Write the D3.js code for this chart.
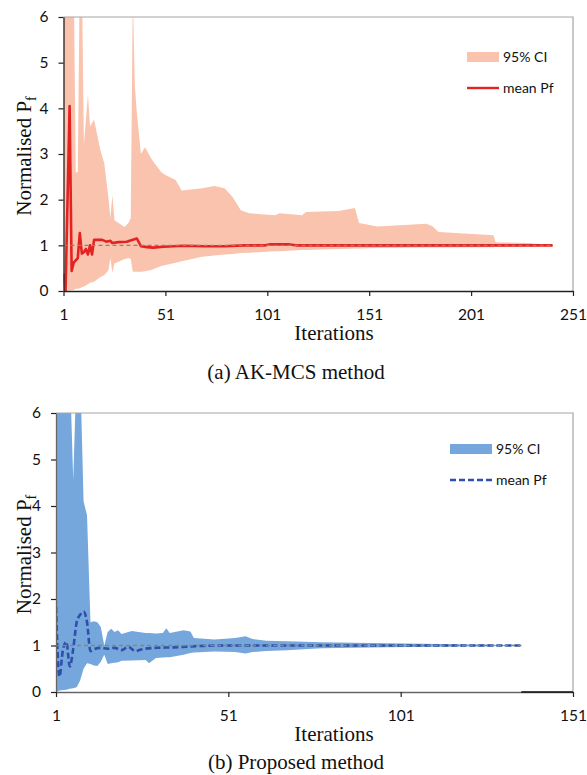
<!DOCTYPE html>
<html>
<head>
<meta charset="utf-8">
<script src="https://cdn.jsdelivr.net/npm/d3@7"></script>
<style>
  body { margin: 0; background: #fff; }
  .tick text { font-family: Lato, "Open Sans", sans-serif; font-size: 15.5px; fill: #111; }
  .title { font-family: "Liberation Serif", "DejaVu Serif", serif; fill: #111; }
  .legend text { font-family: Lato, "Open Sans", sans-serif; font-size: 14px; fill: #111; }
</style>
</head>
<body>
<svg id="chart" width="587" height="775"></svg>
<script>
// ---- (a) AK-MCS: 95% CI band and mean
const akBandIter = [1, 6, 7, 8, 9, 10, 11, 13, 14, 16, 19, 21, 23, 24, 25, 26, 31, 33, 34, 35, 36, 37, 39, 41, 44, 49, 51, 56, 59, 69, 75, 80, 84, 88, 92, 105, 107, 118, 120, 136, 144, 146, 155, 179, 182, 185, 212, 213, 229, 241];
const akLower    = [0, 0.02, 0.05, 0.05, 0.06, 0.08, 0.1, 0.15, 0.18, 0.2, 0.3, 0.35, 0.45, 0.72, 0.4, 0.6, 0.7, 0.72, 0.7, 0.42, 0.42, 0.42, 0.42, 0.43, 0.46, 0.55, 0.57, 0.62, 0.65, 0.75, 0.78, 0.8, 0.81, 0.83, 0.84, 0.87, 0.87, 0.9, 0.9, 0.92, 0.93, 0.93, 0.94, 0.95, 0.95, 0.95, 0.96, 0.97, 0.98, 0.99];
const akUpper    = [7, 7, 2.6, 2.6, 7, 7, 3.2, 4.3, 3.6, 3.75, 3.1, 2.8, 2.06, 1.6, 2.1, 1.55, 1.4, 1.5, 1.6, 6.5, 4.5, 3.9, 3.0, 3.15, 2.9, 2.6, 2.54, 2.43, 2.2, 2.25, 2.3, 2.25, 2.06, 1.77, 1.7, 1.66, 1.7, 1.66, 1.73, 1.75, 1.82, 1.49, 1.41, 1.47, 1.42, 1.29, 1.22, 1.07, 1.05, 1.01];
const akMeanIter = [1, 2, 4, 5, 6, 8, 9, 10, 11, 12, 13, 14, 15, 16, 20, 22, 24, 25, 28, 32, 35, 37, 39, 42, 45, 50, 55, 60, 70, 80, 90, 100, 102, 112, 115, 241];
const akMean     = [0.38, 0, 4.05, 0.44, 0.62, 0.72, 1.27, 0.82, 0.85, 0.92, 0.8, 1.0, 0.8, 1.12, 1.12, 1.08, 1.1, 1.05, 1.07, 1.08, 1.12, 1.15, 0.98, 0.96, 0.95, 0.97, 0.98, 0.99, 0.98, 0.98, 1.0, 1.0, 1.02, 1.02, 1.0, 1.0];

// ---- (b) Proposed method
const prBandIter = [1, 2, 4, 5, 6, 7, 8, 9, 10, 11, 12, 13, 14, 15, 16, 17, 18, 19, 20, 23, 27, 28, 30, 32, 33, 34, 38, 40, 41, 47, 53, 56, 58, 62, 68, 78, 97, 136];
const prLower    = [0, 0.03, 0.05, 0.07, 0.08, 0.1, 0.25, 0.5, 0.62, 0.6, 0.57, 0.56, 0.65, 0.8, 0.6, 0.62, 0.63, 0.64, 0.67, 0.68, 0.69, 0.62, 0.73, 0.74, 0.75, 0.75, 0.8, 0.84, 0.85, 0.87, 0.86, 0.83, 0.86, 0.88, 0.9, 0.94, 0.96, 0.99];
const prUpper    = [7, 7, 7, 7, 4.56, 7, 7, 4.1, 3.8, 1.5, 1.52, 1.5, 1.4, 1.0, 1.29, 1.36, 1.29, 1.33, 1.25, 1.31, 1.27, 1.27, 1.26, 1.27, 1.37, 1.27, 1.33, 1.3, 1.16, 1.13, 1.16, 1.2, 1.14, 1.1, 1.09, 1.07, 1.05, 1.01];
const prMeanIter = [1, 2, 3, 4, 5, 6, 7, 8, 9, 10, 11, 12, 14, 16, 18, 20, 22, 24, 26, 30, 35, 40, 50, 60, 136];
const prMean     = [1.83, 0.33, 0.9, 1.08, 0.55, 0.93, 1.5, 1.66, 1.73, 1.5, 0.88, 0.92, 0.95, 0.93, 0.95, 0.9, 0.97, 0.88, 0.92, 0.95, 0.96, 0.98, 1.0, 1.0, 1.0];

const yTicks = [0, 1, 2, 3, 4, 5, 6];
const akXTicks = [1, 51, 101, 151, 201, 251];
const prXTicks = [1, 51, 101, 151];
const legendLabels = ["95% CI", "mean Pf"];

const svg = d3.select("#chart");

function panel(cfg) {
    const x = d3.scaleLinear().domain(cfg.xDomain).range([cfg.left, cfg.right]);
    const y = d3.scaleLinear().domain([0, 6]).range([cfg.bottom, cfg.top]);
    const g = svg.append("g");

    const clipId = "clip-" + cfg.id;
    g.append("clipPath").attr("id", clipId)
        .append("rect")
        .attr("x", cfg.left).attr("y", cfg.top)
        .attr("width", cfg.right - cfg.left).attr("height", cfg.bottom - cfg.top);

    const band = cfg.bandIter.map((it, i) => ({it, lo: cfg.lower[i], hi: cfg.upper[i]}));
    const mean = cfg.meanIter.map((it, i) => ({it, v: cfg.mean[i]}));

    const plot = g.append("g").attr("clip-path", `url(#${clipId})`);

    plot.append("path")
        .datum(band)
        .attr("fill", cfg.bandColor)
        .attr("d", d3.area()
            .x(d => x(d.it))
            .y0(d => y(d.lo))
            .y1(d => y(d.hi)));

    plot.append("path")
        .datum(mean)
        .attr("fill", "none")
        .attr("stroke", cfg.meanColor)
        .attr("stroke-width", 2.6)
        .attr("stroke-dasharray", cfg.meanDash)
        .attr("stroke-linejoin", "round")
        .attr("d", d3.line()
            .curve(cfg.curve)
            .x(d => x(d.it))
            .y(d => y(d.v)));

    // reference line at 1
    const last = cfg.bandIter[cfg.bandIter.length - 1];
    plot.append("line")
        .attr("x1", x(1)).attr("x2", x(last))
        .attr("y1", y(1)).attr("y2", y(1))
        .attr("stroke", "#7d8c78")
        .attr("stroke-width", 1.3)
        .attr("stroke-dasharray", "4,3");

    // frame: grey top/right
    g.append("path")
        .attr("fill", "none")
        .attr("stroke", "#a6a6a6")
        .attr("stroke-width", 1.2)
        .attr("d", `M${cfg.left},${cfg.top}H${cfg.right}V${cfg.bottom}`);

    const yAxis = g.append("g")
        .attr("transform", `translate(${cfg.left},0)`)
        .call(d3.axisLeft(y).tickValues(yTicks).tickFormat(d3.format("d"))
            .tickSize(5).tickPadding(10).tickSizeOuter(0));
    const xAxis = g.append("g")
        .attr("transform", `translate(0,${cfg.bottom})`)
        .call(d3.axisBottom(x).tickValues(cfg.xTicks).tickFormat(d3.format("d"))
            .tickSize(5).tickPadding(13).tickSizeOuter(0));
    [yAxis, xAxis].forEach(a => {
        a.selectAll(".domain").attr("stroke", cfg.axisColor).attr("stroke-width", 1.3);
        a.selectAll(".tick line").attr("stroke", "#222").attr("stroke-width", 1.2);
    });

    // darker axis stretch past the end of the data (panel b only)
    if (cfg.darkTail) {
        g.append("line")
            .attr("x1", x(last)).attr("x2", x(cfg.xDomain[1]))
            .attr("y1", y(0)).attr("y2", y(0))
            .attr("stroke", "#111").attr("stroke-width", 1.6);
    }

    // axis titles
    const yt = g.append("text")
        .attr("class", "title")
        .attr("transform", `translate(${cfg.yTitleX},${(cfg.top + cfg.bottom) / 2 + 2}) rotate(-90)`)
        .attr("text-anchor", "middle")
        .style("font-size", "21px");
    yt.append("tspan").text("Normalised P");
    yt.append("tspan").text("f").attr("dy", 5).style("font-size", "14px");

    g.append("text")
        .attr("class", "title")
        .attr("x", cfg.xTitleX).attr("y", cfg.bottom + 49)
        .attr("text-anchor", "middle")
        .style("font-size", "21px")
        .text("Iterations");

    g.append("text")
        .attr("class", "title")
        .attr("x", cfg.captionX).attr("y", cfg.captionY)
        .attr("text-anchor", "middle")
        .style("font-size", "21px")
        .text(cfg.caption);

    // legend
    const lg = g.append("g").attr("class", "legend")
        .attr("transform", `translate(${cfg.legendX},${cfg.legendY})`);
    lg.append("rect").attr("x", 0).attr("y", -5).attr("width", cfg.legendW).attr("height", 10)
        .attr("fill", cfg.bandColor);
    lg.append("line").attr("x1", 0).attr("x2", cfg.legendW).attr("y1", 31).attr("y2", 31)
        .attr("stroke", cfg.meanColor).attr("stroke-width", 2.4)
        .attr("stroke-dasharray", cfg.meanDash);
    lg.selectAll("text").data(legendLabels).enter().append("text")
        .attr("x", cfg.legendW + 4)
        .attr("y", (d, i) => i * 31)
        .attr("dy", "0.35em")
        .text(d => d);
}

panel({
    id: "a", left: 63.5, right: 573, top: 17, bottom: 291,
    xDomain: [1, 251], xTicks: akXTicks,
    bandIter: akBandIter, lower: akLower, upper: akUpper,
    meanIter: akMeanIter, mean: akMean,
    bandColor: "#f9c3ae", meanColor: "#e42222", meanDash: null,
    curve: d3.curveLinear, axisColor: "#222", darkTail: false,
    yTitleX: 31, xTitleX: 334, caption: "(a) AK-MCS method", captionX: 296, captionY: 379,
    legendX: 467, legendY: 57, legendW: 32
});

panel({
    id: "b", left: 56, right: 573, top: 413, bottom: 692,
    xDomain: [1, 151], xTicks: prXTicks,
    bandIter: prBandIter, lower: prLower, upper: prUpper,
    meanIter: prMeanIter, mean: prMean,
    bandColor: "#76a7dc", meanColor: "#2f4fae", meanDash: "6,3",
    curve: d3.curveMonotoneX, axisColor: "#666", darkTail: true,
    yTitleX: 31, xTitleX: 334, caption: "(b) Proposed method", captionX: 296, captionY: 769,
    legendX: 450, legendY: 449, legendW: 42
});
</script>
</body>
</html>
